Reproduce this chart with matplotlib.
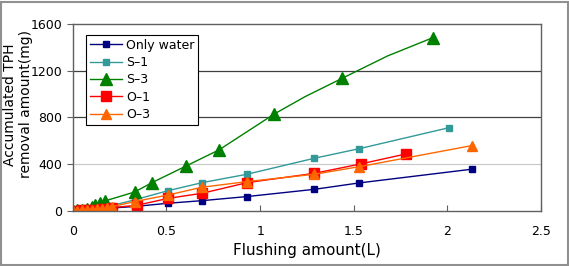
import matplotlib.pyplot as plt
from matplotlib.patches import Rectangle

# Only water
x_water = [0, 0.02, 0.047, 0.074, 0.10, 0.127, 0.154, 0.18, 0.207, 0.33, 0.51, 0.69, 0.93, 1.29, 1.53, 2.13]
y_water = [0, 2, 4, 6, 8, 10, 13, 17, 25, 38, 66, 88, 123, 185, 240, 357]

# S-1
x_s1 = [0, 0.02, 0.047, 0.074, 0.10, 0.127, 0.154, 0.18, 0.207, 0.33, 0.51, 0.69, 0.93, 1.29, 1.53, 2.01]
y_s1 = [0, 3, 6, 9, 13, 18, 24, 32, 45, 95, 174, 242, 314, 451, 533, 713]

# S-3 (markers only on some points, the rest are line vertices)
x_s3 = [0, 0.02, 0.047, 0.074, 0.10, 0.118, 0.145, 0.17, 0.33, 0.42, 0.605, 0.78, 1.076, 1.24, 1.438, 1.68, 1.923]
y_s3 = [0, 4, 10, 18, 30, 50, 70, 85, 162, 240, 385, 522, 830, 978, 1135, 1326, 1483]
s3_marked = [0, 1, 2, 3, 4, 5, 6, 7, 8, 9, 10, 11, 12, 14, 16]

# O-1
x_o1 = [0, 0.02, 0.047, 0.074, 0.10, 0.127, 0.154, 0.18, 0.207, 0.34, 0.51, 0.69, 0.93, 1.29, 1.536, 1.78]
y_o1 = [0, 2, 4, 6, 9, 12, 16, 20, 28, 48, 108, 151, 242, 322, 402, 488]

# O-3
x_o3 = [0, 0.02, 0.047, 0.074, 0.10, 0.127, 0.154, 0.18, 0.207, 0.33, 0.51, 0.69, 0.93, 1.29, 1.53, 2.13]
y_o3 = [0, 3, 5, 8, 11, 15, 20, 26, 36, 80, 137, 203, 251, 314, 379, 559]

plt.rcParams['font.family'] = ['DejaVu Sans']

fig = plt.figure(figsize=(5.69, 2.66), dpi=100)
ax = fig.add_axes([0.128, 0.207, 0.823, 0.703])

ax.plot(x_water, y_water, color='#000080', marker='s', markersize=4.5, linewidth=1, label='Only water')
ax.plot(x_s1, y_s1, color='#339999', marker='s', markersize=5, linewidth=1, label='S\u20131')
ax.plot(x_s3, y_s3, color='#008000', marker='^', markersize=8, linewidth=1,
        markevery=s3_marked, label='S\u20133')
ax.plot(x_o1, y_o1, color='#FF0000', marker='s', markersize=7, linewidth=1, label='O\u20131')
ax.plot(x_o3, y_o3, color='#FF6600', marker='^', markersize=7.5, linewidth=1, label='O\u20133')

ax.set_xlim(0, 2.5)
ax.set_ylim(0, 1600)
ax.set_xticks([0, 0.5, 1, 1.5, 2, 2.5])
ax.set_xticklabels(['0', '0.5', '1', '1.5', '2', '2.5'])
ax.set_yticks([0, 400, 800, 1200, 1600])

# gridlines like the original: dark at 800/1200, light at 400
ax.axhline(400, color='#c8c8c8', linewidth=0.8, zorder=0)
ax.axhline(800, color='#404040', linewidth=0.9, zorder=0)
ax.axhline(1200, color='#404040', linewidth=0.9, zorder=0)

for sp in ax.spines.values():
    sp.set_color('#606060')
    sp.set_linewidth(1)

ax.tick_params(axis='x', direction='in', length=4, labelsize=9, pad=10, color='#606060')
ax.tick_params(axis='y', direction='out', length=4, labelsize=9, color='#606060')

ax.set_xlabel('Flushing amount(L)', fontsize=11, labelpad=4)
ax.set_ylabel('Accumulated TPH\nremoval amount(mg)', fontsize=10, linespacing=1.2)
ax.yaxis.set_label_coords(-0.084, 0.57)

leg = ax.legend(loc='upper left', bbox_to_anchor=(0.015, 0.975), fontsize=9,
                frameon=True, fancybox=False, edgecolor='black', framealpha=1,
                handlelength=2.6, borderpad=0.3, labelspacing=0.35, handletextpad=0.3)
leg.get_frame().set_linewidth(0.8)

fig.patches.append(Rectangle((0.002, 0.004), 0.996, 0.99, transform=fig.transFigure,
                             fill=False, edgecolor='#909090', linewidth=1.5))

fig.savefig('out.png', dpi=100)
